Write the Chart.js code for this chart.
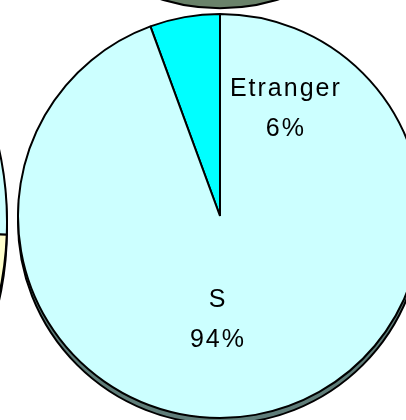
<!DOCTYPE html>
<html>
<head>
<meta charset="utf-8">
<script src="https://cdn.jsdelivr.net/npm/chart.js@4/dist/chart.umd.min.js"></script>
<style>
  html, body { margin: 0; padding: 0; background: #ffffff; overflow: hidden; width: 406px; height: 420px; }
  .box { position: absolute; }
</style>
</head>
<body>
<div class="box" id="topBox" style="left:20px; top:-400px; width:400px; height:430px;"><canvas id="topPie"></canvas></div>
<div class="box" id="leftBox" style="left:-668px; top:-116px; width:676px; height:696px;"><canvas id="leftPie"></canvas></div>
<div class="box" id="mainBox" style="left:0px; top:0px; width:440px; height:420px;"><canvas id="mainPie"></canvas></div>
<script>
// ---- data (main chart) ----
const categories = ['Etranger', 'S'];
const shares = [5.6, 94.4];
// ---- neighbouring, mostly hidden charts (only edges visible) ----
const leftCategories = ['A', 'B'];
const leftShares = [25.6, 74.4];
const topCategories = ['A'];
const topShares = [100];

const sliceColors = ['#00FFFF', '#CCFFFF'];

Chart.defaults.animation = false;

// 3D-like shadow under the pie
const shadowPlugin = {
  id: 'shadow3d',
  beforeDatasetsDraw(chart, args, opts) {
    const arc = chart.getDatasetMeta(0).data[0];
    if (!arc) return;
    const {x, y, outerRadius} = arc.getProps(['x', 'y', 'outerRadius'], true);
    const ctx = chart.ctx;
    ctx.save();
    ctx.beginPath();
    ctx.arc(x, y + opts.offset, outerRadius, 0, Math.PI * 2);
    ctx.fillStyle = opts.color;
    ctx.fill();
    ctx.lineWidth = 2;
    ctx.strokeStyle = '#000000';
    ctx.stroke();
    ctx.restore();
  }
};

// label placement (fractions of radius, relative to pie centre)
const labelPlugin = {
  id: 'sliceLabels',
  afterDatasetsDraw(chart, args, opts) {
    const meta = chart.getDatasetMeta(0);
    const arc0 = meta.data[0];
    const {x, y, outerRadius} = arc0.getProps(['x', 'y', 'outerRadius'], true);
    const ds = chart.data.datasets[0].data;
    const total = ds.reduce((a, b) => a + b, 0);
    const ctx = chart.ctx;
    ctx.save();
    ctx.font = '25px "Liberation Sans", Arial, sans-serif';
    ctx.fillStyle = '#000000';
    ctx.textAlign = 'center';
    ctx.textBaseline = 'alphabetic';
    if ('letterSpacing' in ctx) ctx.letterSpacing = '2px';
    chart.data.labels.forEach((lab, i) => {
      const a = opts.anchors[i];
      const px = x + a.dx * outerRadius;
      const py = y + a.dy * outerRadius;
      const pct = Math.round(ds[i] / total * 100) + '%';
      ctx.fillText(lab, px, py);
      ctx.fillText(pct, px, py + 40);
    });
    ctx.restore();
  }
};

function pieOptions(extra) {
  return Object.assign({
    responsive: true,
    maintainAspectRatio: false,
    animation: false,
    events: [],
    plugins: { legend: { display: false }, tooltip: { enabled: false } },
  }, extra);
}

// top neighbour pie (only its dark side is visible)
new Chart(document.getElementById('topPie'), {
  type: 'pie',
  data: { labels: topCategories, datasets: [{ data: topShares, backgroundColor: ['#5E745E'], borderColor: '#000000', borderWidth: 1.5, hoverOffset: 0 }] },
  options: pieOptions({
    layout: { padding: { top: 0, left: 0, right: 0, bottom: 30 } },
    plugins: { legend: { display: false }, tooltip: { enabled: false }, shadow3d: { offset: 9, color: '#6A826A' } }
  }),
  plugins: [shadowPlugin]
});

// left neighbour pie
new Chart(document.getElementById('leftPie'), {
  type: 'pie',
  data: { labels: leftCategories, datasets: [{ data: leftShares, backgroundColor: ['#CCFFFF', '#FFFFCC'], borderColor: '#000000', borderWidth: 2, hoverOffset: 0 }] },
  options: pieOptions({
    layout: { padding: { top: 0, left: 0, right: 0, bottom: 20 } },
    plugins: { legend: { display: false }, tooltip: { enabled: false }, shadow3d: { offset: 6, color: '#6A7F6A' } }
  }),
  plugins: [shadowPlugin]
});

// main pie
const total = shares.reduce((a, b) => a + b, 0);
new Chart(document.getElementById('mainPie'), {
  type: 'pie',
  data: {
    labels: categories,
    datasets: [{ data: shares, backgroundColor: sliceColors, borderColor: '#000000', borderWidth: 2, hoverOffset: 0, offset: 0 }]
  },
  options: pieOptions({
    rotation: -shares[0] / total * 360,
    layout: { padding: { left: 16.5, top: 13, right: 16.5, bottom: 1 } },
    plugins: {
      legend: { display: false }, tooltip: { enabled: false },
      shadow3d: { offset: 6, color: '#5F7D79' },
      sliceLabels: { anchors: [ { dx: 0.326, dy: -0.594 }, { dx: -0.01, dy: 0.45 } ] }
    }
  }),
  plugins: [shadowPlugin, labelPlugin]
});
</script>
</body>
</html>
